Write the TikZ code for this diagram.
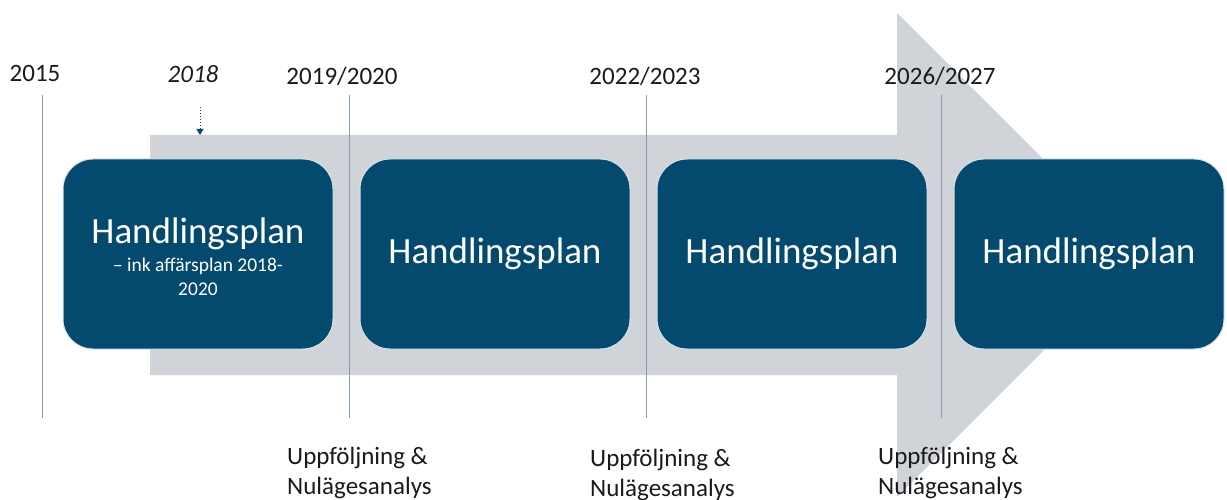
\documentclass[tikz,border=0pt]{standalone}
\usepackage{fontspec}
\setmainfont{Carlito}
\usetikzlibrary{arrows.meta}
\definecolor{arrowgray}{HTML}{D0D4D8}
\definecolor{boxblue}{HTML}{034A6E}
\definecolor{tickline}{HTML}{7F9CB2}
\definecolor{txt}{HTML}{1A1A1A}
\tikzset{
  hbox/.style={fill=boxblue, draw=white!85!boxblue, line width=1pt, rounded corners=30pt,
    minimum width=270pt, minimum height=190pt, text=white, align=center, inner sep=0pt,
    font=\fontsize{37}{40}\selectfont},
  boxsub/.style={text=white, inner sep=0pt, anchor=base, font=\fontsize{19.5}{23}\selectfont},
  yearlbl/.style={anchor=base, text=txt, font=\fontsize{25}{30}\selectfont, inner sep=0pt},
  bottomlbl/.style={anchor=north west, text=txt, font=\fontsize{25}{30}\selectfont, align=left, inner sep=0pt},
  tick/.style={draw=tickline, line width=1pt}
}
\begin{document}
\begin{tikzpicture}[x=1pt,y=-1pt]
\useasboundingbox (0,0) rectangle (1227,500);
% big arrow
\fill[arrowgray] (150,135) -- (897,135) -- (897,13) -- (1139,255) -- (897,497) -- (897,375) -- (150,375) -- cycle;
% tick lines
\coordinate (t1a) at (42,95);  \coordinate (t1b) at (42,418);
\coordinate (t2a) at (349,95); \coordinate (t2b) at (349,418);
\coordinate (t3a) at (646,95); \coordinate (t3b) at (646,418);
\coordinate (t4a) at (941,95); \coordinate (t4b) at (941,418);
\draw[tick] (t1a) -- (t1b);
\draw[tick] (t2a) -- (t2b);
\draw[tick] (t3a) -- (t3b);
\draw[tick] (t4a) -- (t4b);
% year labels
\node[yearlbl] (y1) at (35,82) {2015};
\node[yearlbl] (y2) at (193,83) {\itshape 2018};
\node[yearlbl] (y3) at (342,85) {2019/2020};
\node[yearlbl] (y4) at (645,85) {2022/2023};
\node[yearlbl] (y5) at (940,85) {2026/2027};
% dotted arrow from 2018
\coordinate (d1) at (200,107);
\coordinate (d2) at (200,135);
\draw[boxblue, line width=0.8pt, dash pattern=on 1.5pt off 1.5pt, -{Triangle[width=7pt,length=6pt]}] (d1) -- (d2);
% boxes
\node[hbox] (b1) at (198,254) {};
\node[text=white, inner sep=0pt, anchor=base, font=\fontsize{37}{40}\selectfont] (b1t) at (198,243) {Handlingsplan};
\node[boxsub] (b1s) at (198,271) {– ink affärsplan 2018-};
\node[boxsub] (b1y) at (198,295) {2020};
\node[hbox] (b2) at (495,254) {Handlingsplan};
\node[hbox] (b3) at (792,254) {Handlingsplan};
\node[hbox] (b4) at (1089,254) {Handlingsplan};
% bottom labels
\node[bottomlbl] (u1) at (287,447) {Uppföljning \&\\Nulägesanalys};
\node[bottomlbl] (u2) at (590,449) {Uppföljning \&\\Nulägesanalys};
\node[bottomlbl] (u3) at (878,447) {Uppföljning \&\\Nulägesanalys};
\end{tikzpicture}
\end{document}
